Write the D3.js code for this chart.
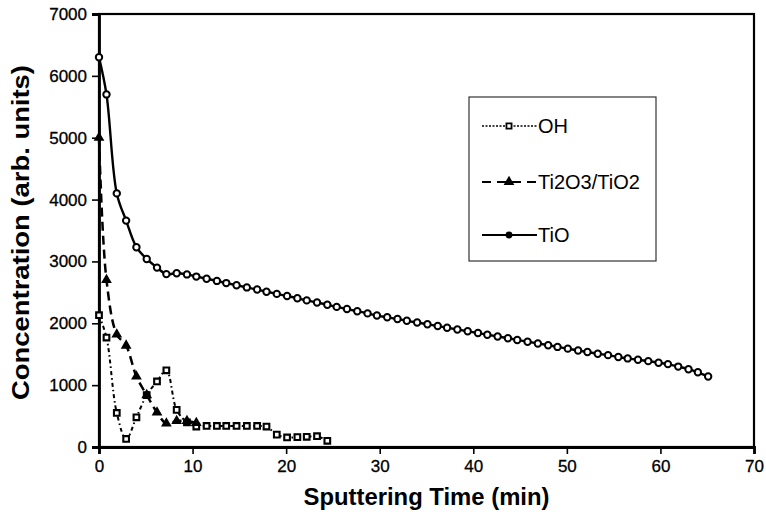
<!DOCTYPE html>
<html>
<head>
<meta charset="utf-8">
<script src="https://cdn.jsdelivr.net/npm/d3@7"></script>
<style>
  body { margin: 0; background: #fff; }
  text { font-family: "Liberation Sans", Arial, sans-serif; fill: #000; }
</style>
</head>
<body>
<div id="chart"></div>
<script>
// sputtering time (min) and concentration (arb. units)
const tioTime = [0, 0.8, 1.9, 2.9, 4.0, 5.1, 6.2, 7.2, 8.3, 9.4, 10.4, 11.5, 12.6, 13.6, 14.7, 15.8,
  16.9, 17.9, 19.0, 20.1, 21.2, 22.2, 23.3, 24.4, 25.4, 26.5, 27.6, 28.7, 29.7, 30.8, 31.9, 32.9,
  34.0, 35.1, 36.2, 37.2, 38.3, 39.4, 40.5, 41.5, 42.6, 43.7, 44.7, 45.8, 46.9, 48.0, 49.0, 50.1,
  51.2, 52.2, 53.3, 54.4, 55.5, 56.5, 57.6, 58.7, 59.8, 60.8, 61.9, 63.0, 64.0, 65.1];
const tioConc = [6300, 5700, 4100, 3660, 3230, 3040, 2900, 2795, 2810, 2790, 2755, 2720, 2685, 2650, 2615, 2580,
  2545, 2510, 2475, 2440, 2405, 2370, 2335, 2300, 2265, 2230, 2195, 2160, 2125, 2097, 2069, 2040,
  2012, 1984, 1956, 1928, 1900, 1871, 1843, 1815, 1787, 1759, 1731, 1702, 1674, 1646, 1618, 1590,
  1560, 1535, 1508, 1485, 1455, 1432, 1410, 1388, 1362, 1340, 1300, 1258, 1208, 1140];

const tiTime = [0, 0.8, 1.9, 2.9, 4.0, 5.1, 6.2, 7.2, 8.3, 9.4, 10.4];
const tiConc = [5000, 2700, 1820, 1640, 1140, 840, 560, 380, 420, 420, 390];

const ohTime = [0, 0.8, 1.9, 2.9, 4.0, 5.1, 6.2, 7.2, 8.3, 9.4, 10.4, 11.5, 12.6, 13.6, 14.7, 15.8,
  16.9, 17.9, 19.0, 20.1, 21.2, 22.2, 23.3, 24.4];
const ohConc = [2130, 1770, 550, 130, 480, 840, 1060, 1240, 600, 400, 330, 340, 340, 340, 340, 340,
  340, 330, 200, 155, 160, 165, 175, 100];

const xTicks = [0, 10, 20, 30, 40, 50, 60, 70];
const yTicks = [0, 1000, 2000, 3000, 4000, 5000, 6000, 7000];
const legendNames = ["OH", "Ti2O3/TiO2", "TiO"];

var margin = { top: 14, right: 12, bottom: 73, left: 99 },
  width = 766 - margin.left - margin.right,
  height = 520 - margin.top - margin.bottom;

var svg = d3.select("#chart")
  .append("svg")
  .attr("width", 766)
  .attr("height", 520)
  .append("g")
  .attr("transform", "translate(" + margin.left + "," + margin.top + ")");

var x = d3.scaleLinear().domain([0, 70]).range([0, width]);
var y = d3.scaleLinear().domain([0, 7000]).range([height, 0]);

// frame
svg.append("rect")
  .attr("width", width)
  .attr("height", height)
  .attr("fill", "none")
  .attr("stroke", "#000")
  .attr("stroke-width", 2.2);

var xAxis = svg.append("g")
  .attr("transform", "translate(0," + height + ")")
  .call(d3.axisBottom(x).tickValues(xTicks).tickSize(7).tickPadding(6).tickFormat(d3.format("d")));
var yAxis = svg.append("g")
  .call(d3.axisLeft(y).tickValues(yTicks).tickSize(7).tickPadding(5).tickFormat(d3.format("d")));

[xAxis, yAxis].forEach(function (a) {
  a.select(".domain").attr("stroke-width", 2.8);
  a.selectAll(".tick line").attr("stroke-width", 1.6);
  a.selectAll(".tick text")
    .style("font-family", "'Liberation Sans', Arial, sans-serif")
    .style("font-size", "17px")
    .style("stroke", "#000")
    .style("stroke-width", 0.3);
});

// axis titles
svg.append("text")
  .attr("x", width / 2)
  .attr("y", height + 58)
  .attr("text-anchor", "middle")
  .style("font-size", "23px")
  .style("font-weight", "bold")
  .attr("textLength", 246)
  .attr("lengthAdjust", "spacingAndGlyphs")
  .text("Sputtering Time (min)");

svg.append("text")
  .attr("transform", "translate(-70," + (height / 2 + 2) + ") rotate(-90)")
  .attr("text-anchor", "middle")
  .style("font-size", "23px")
  .style("font-weight", "bold")
  .attr("textLength", 335)
  .attr("lengthAdjust", "spacingAndGlyphs")
  .text("Concentration (arb. units)");

var line = d3.line()
  .x(function (d) { return x(d[0]); })
  .y(function (d) { return y(d[1]); })
  .curve(d3.curveCatmullRom.alpha(0.5));

var tio = d3.zip(tioTime, tioConc),
  ti = d3.zip(tiTime, tiConc),
  oh = d3.zip(ohTime, ohConc);

// OH: dash-dot line, open squares
svg.append("path")
  .datum(oh)
  .attr("fill", "none")
  .attr("stroke", "#000")
  .attr("stroke-width", 2)
  .attr("stroke-dasharray", "4,3,1.5,3")
  .attr("d", line);

// Ti2O3/TiO2: dashed line, filled triangles
svg.append("path")
  .datum(ti)
  .attr("fill", "none")
  .attr("stroke", "#000")
  .attr("stroke-width", 2.5)
  .attr("stroke-dasharray", "9,5")
  .attr("d", line);

// TiO: solid line, open circles
svg.append("path")
  .datum(tio)
  .attr("fill", "none")
  .attr("stroke", "#000")
  .attr("stroke-width", 2.4)
  .attr("d", line);

var tri = d3.symbol().type(d3.symbolTriangle).size(50);
var sq = d3.symbol().type(d3.symbolSquare).size(32);

svg.selectAll(".oh")
  .data(oh).enter()
  .append("path")
  .attr("class", "oh")
  .attr("transform", function (d) { return "translate(" + x(d[0]) + "," + y(d[1]) + ")"; })
  .attr("d", sq)
  .attr("fill", "#fff")
  .attr("stroke", "#000")
  .attr("stroke-width", 2.1);

svg.selectAll(".ti")
  .data(ti).enter()
  .append("path")
  .attr("class", "ti")
  .attr("transform", function (d) { return "translate(" + x(d[0]) + "," + y(d[1]) + ")"; })
  .attr("d", tri)
  .attr("fill", "#000");

svg.selectAll(".tio")
  .data(tio).enter()
  .append("circle")
  .attr("class", "tio")
  .attr("cx", function (d) { return x(d[0]); })
  .attr("cy", function (d) { return y(d[1]); })
  .attr("r", 3.2)
  .attr("fill", "#fff")
  .attr("stroke", "#000")
  .attr("stroke-width", 2);

// legend
var lg = svg.append("g").attr("transform", "translate(" + (469 - margin.left) + "," + (97 - margin.top) + ")");
lg.append("rect")
  .attr("width", 187)
  .attr("height", 164)
  .attr("fill", "#fff")
  .attr("stroke", "#333")
  .attr("stroke-width", 1.2);

var rowY = [29, 85, 138];
var dashes = ["2,1.5", "9,6", null];
lg.selectAll(".lgline")
  .data(legendNames).enter()
  .append("line")
  .attr("x1", 13).attr("x2", 68)
  .attr("y1", function (d, i) { return rowY[i]; })
  .attr("y2", function (d, i) { return rowY[i]; })
  .attr("stroke", "#000")
  .attr("stroke-width", function (d, i) { return i == 0 ? 1.5 : 2.2; })
  .attr("stroke-dasharray", function (d, i) { return dashes[i]; });

lg.append("path")
  .attr("transform", "translate(40," + rowY[0] + ")")
  .attr("d", d3.symbol().type(d3.symbolSquare).size(26))
  .attr("fill", "#fff").attr("stroke", "#000").attr("stroke-width", 1.8);
lg.append("path")
  .attr("transform", "translate(40," + rowY[1] + ")")
  .attr("d", tri)
  .attr("fill", "#000");
lg.append("circle")
  .attr("cx", 40).attr("cy", rowY[2]).attr("r", 3.4)
  .attr("fill", "#000");

lg.selectAll(".lgtext")
  .data(legendNames).enter()
  .append("text")
  .attr("x", 69)
  .attr("y", function (d, i) { return rowY[i]; })
  .attr("dy", "0.36em")
  .style("font-size", "20px")
  .text(function (d) { return d; });
</script>
</body>
</html>
